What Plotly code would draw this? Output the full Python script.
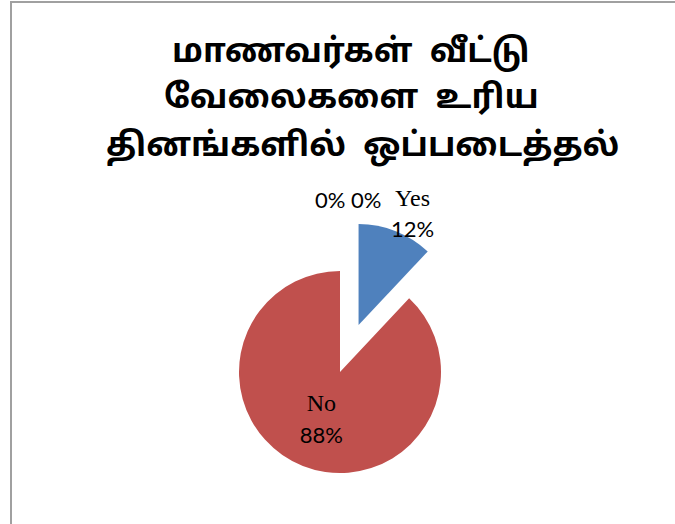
import plotly.graph_objects as go

# Data
categories = ["Yes", "No", "Category 3", "Category 4"]
values = [12, 88, 0, 0]
colors = ["#4F81BD", "#C0504D", "#9BBB59", "#8064A2"]
title_lines = ["மாணவர்கள்  வீட்டு", "வேலைகளை  உரிய", "தினங்களில்  ஒப்படைத்தல்"]

total = sum(values)
pcts = [round(v / total * 100) for v in values]

W, H = 675, 524
serif = "Liberation Serif, Times New Roman, serif"
sans = "Lato, Carlito, Liberation Sans, sans-serif"
tamil = "Noto Sans Tamil, Latha, Lohit Tamil, sans-serif"


def label_html(cat, pct):
    return f"{cat}<br><span style='font-family:{sans};font-size:22px'>{pct}%</span>"


texts = ["", label_html(categories[1], pcts[1]), "", ""]

fig = go.Figure()
fig.add_trace(go.Pie(
    labels=categories,
    values=values,
    sort=False,
    direction="clockwise",
    rotation=0,
    pull=[0.5, 0, 0, 0],
    marker=dict(colors=colors, line=dict(width=0)),
    text=texts,
    textinfo="text",
    textposition=["none", "inside", "none", "none"],
    insidetextorientation="horizontal",
    textfont=dict(family=serif, size=24, color="#000000"),
    insidetextfont=dict(family=serif, size=24, color="#000000"),
    showlegend=False,
    hoverinfo="label+percent",
    domain=dict(x=[188.5 / W, 491.5 / W], y=[1 - 523.5 / H, 1 - 220.5 / H]),
))

# label of the pulled "Yes" slice
fig.add_annotation(
    text=label_html(categories[0], pcts[0]), x=412 / W, y=1 - 213 / H,
    xref="paper", yref="paper", xanchor="center", yanchor="middle",
    showarrow=False, font=dict(family=serif, size=24, color="#000000"),
)

# labels of the zero-valued slices
zero_text = " ".join(f"{p}%" for v, p in zip(values, pcts) if v == 0)
fig.add_annotation(
    text=zero_text, x=347.5 / W, y=1 - 200 / H, xref="paper", yref="paper",
    xanchor="center", yanchor="middle", showarrow=False,
    font=dict(family=sans, size=22, color="#000000"),
)

# title, one annotation per line
title_x = [351, 351, 362]
title_y = [53, 99, 147]
for line, tx, ty in zip(title_lines, title_x, title_y):
    fig.add_annotation(
        text=line, x=tx / W, y=1 - ty / H, xref="paper", yref="paper",
        xanchor="center", yanchor="middle", showarrow=False,
        font=dict(family=tamil, size=33, color="#000000", weight="bold"),
    )

fig.update_layout(
    width=W, height=H,
    margin=dict(l=0, r=0, t=0, b=0, pad=0, autoexpand=False),
    paper_bgcolor="white",
    plot_bgcolor="white",
    shapes=[dict(
        type="rect", xref="paper", yref="paper",
        x0=11 / W, x1=1.2, y0=-0.2, y1=1 - 2 / H,
        line=dict(color="#A0A0A0", width=2),
    )],
)

fig.write_html("out.html", config={"displayModeBar": False},
               post_script="document.body.style.margin='0px';")
